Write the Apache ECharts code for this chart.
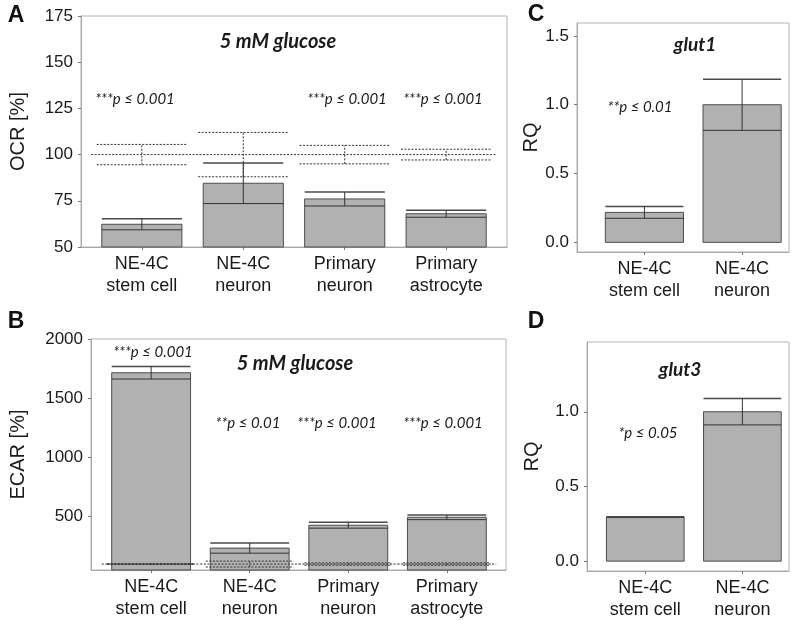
<!DOCTYPE html>
<html>
<head>
<meta charset="utf-8">
<script src="https://cdn.jsdelivr.net/npm/echarts@6/dist/echarts.min.js"></script>
<style>html,body{margin:0;padding:0;background:#fff}#c{width:800px;height:621px}</style>
</head>
<body>
<div id="c"></div>
<script>
// ---------- data ----------
const catsAB = ['NE-4C\nstem cell', 'NE-4C\nneuron', 'Primary\nneuron', 'Primary\nastrocyte'];
const catsCD = ['NE-4C\nstem cell', 'NE-4C\nneuron'];

const ocrMean = [62.3, 84.5, 76.0, 68.0];
const ocrErr = [3.0, 11.0, 3.8, 1.9];
const ocrCtrlErr = [5.5, 12.0, 5.0, 2.9];
const ocrTicks = [50, 75, 100, 125, 150, 175];

const ecarMean = [1715, 235, 428, 495];
const ecarErr = [53, 43, 25, 20];
const ecarCtrlErr = [4, 25, 10, 10];
const ecarTicks = [500, 1000, 1500, 2000];

const controlLevel = 100;

const glut1Mean = [0.218, 1.0];
const glut1Err = [0.043, 0.186];
const glut3Mean = [0.295, 1.0];
const glut3Err = [0.003, 0.088];
const rqTicksC = [0, 0.5, 1.0, 1.5];
const rqTicksD = [0, 0.5, 1.0];

const pLabelsA = ['***p ≤ 0.001', '', '***p ≤ 0.001', '***p ≤ 0.001'];
const pLabelsB = ['***p ≤ 0.001', '**p ≤ 0.01', '***p ≤ 0.001', '***p ≤ 0.001'];
const pLabelC = '**p ≤ 0.01';
const pLabelD = '*p ≤ 0.05';

// ---------- rendering ----------
const chart = echarts.init(document.getElementById('c'), null, {renderer: 'canvas'});
const FONT = 'Liberation Sans, Arial, sans-serif';
const ANN = 'Lato, "Open Sans", sans-serif';

function barRenderer(base, widthUnits) {
  return function (params, api) {
    const x = api.value(0), m = api.value(1), e = api.value(2);
    const w = api.size([widthUnits, 0])[0];
    const top = api.coord([x, m]);
    const bot = api.coord([x, base]);
    const lo = api.coord([x, m - e]);
    const hi = api.coord([x, m + e]);
    const x0 = top[0] - w / 2, x1 = top[0] + w / 2;
    return {
      type: 'group',
      children: [
        {type: 'rect', shape: {x: x0, y: top[1], width: w, height: bot[1] - top[1]},
          style: {fill: '#b1b1b1', stroke: '#4d4d4d', lineWidth: 1}},
        {type: 'line', shape: {x1: x0, y1: lo[1], x2: x1, y2: lo[1]}, style: {stroke: '#333', lineWidth: 1}},
        {type: 'line', shape: {x1: x0, y1: hi[1], x2: x1, y2: hi[1]}, style: {stroke: '#4a4a4a', lineWidth: 1.5}},
        {type: 'line', shape: {x1: top[0], y1: lo[1], x2: top[0], y2: hi[1]}, style: {stroke: '#333', lineWidth: 1}}
      ]
    };
  };
}

function ctrlRenderer(level, widthUnits) {
  return function (params, api) {
    const x = api.value(0), e = api.value(1);
    const c = api.coord([x, level]);
    const lo = api.coord([x, level - e]);
    const hi = api.coord([x, level + e]);
    const w = api.size([widthUnits, 0])[0];
    const left = api.coord([x - 0.5, level])[0];
    const right = api.coord([x + 0.5, level])[0];
    const ds = {stroke: '#333', lineWidth: 1, lineDash: [2, 1.5]};
    return {
      type: 'group',
      children: [
        {type: 'line', shape: {x1: left, y1: c[1], x2: right, y2: c[1]}, style: ds},
        {type: 'line', shape: {x1: c[0] - w / 2, y1: hi[1], x2: c[0] + w / 2, y2: hi[1]}, style: ds},
        {type: 'line', shape: {x1: c[0] - w / 2, y1: lo[1], x2: c[0] + w / 2, y2: lo[1]}, style: ds},
        {type: 'line', shape: {x1: c[0], y1: lo[1], x2: c[0], y2: hi[1]}, style: ds}
      ]
    };
  };
}

function xAx(gi, cats, min, max) {
  const vals = cats.map((_, i) => i);
  return {
    gridIndex: gi, type: 'value', min: min, max: max,
    axisLine: {show: true, onZero: false, lineStyle: {color: '#a8a8a8', width: 1}},
    axisTick: {show: true, customValues: vals, length: 3, lineStyle: {color: '#777'}},
    axisLabel: {customValues: vals, formatter: v => cats[Math.round(v)], fontSize: 18, lineHeight: 22,
      color: '#1a1a1a', fontFamily: FONT, margin: 6},
    splitLine: {show: false}
  };
}

function yAx(gi, min, max, ticks, name, gap, fmt) {
  return {
    gridIndex: gi, type: 'value', min: min, max: max,
    name: name, nameLocation: 'middle', nameGap: gap, nameRotate: 90,
    nameTextStyle: {fontSize: 20, fontFamily: FONT, color: '#1a1a1a'},
    axisLine: {show: true, onZero: false, lineStyle: {color: '#a8a8a8', width: 1}},
    axisTick: {show: true, customValues: ticks, length: 3, lineStyle: {color: '#777'}},
    axisLabel: {customValues: ticks, formatter: fmt, fontSize: 17, color: '#1a1a1a', fontFamily: FONT, margin: 8},
    splitLine: {show: false}
  };
}

function txt(t, x, y, font, color) {
  return {type: 'text', z: 100, style: {text: t, x: x, y: y, font: font, fill: color || '#1a1a1a',
    textAlign: 'center', textVerticalAlign: 'middle'}};
}

const gridStyle = {show: true, borderColor: '#b4b4b4', borderWidth: 1, backgroundColor: 'transparent'};

const pPosA = [[135, 99], null, [347, 99], [443, 99]];
const pPosB = [[153, 352], [248, 423], [337, 423], [443, 423]];
const annFont = 'italic 15px ' + ANN;
const titleFont = 'italic bold 20px ' + ANN;
const geneFont = 'italic bold 19px ' + ANN;
const letterFont = 'bold 23px ' + FONT;

const graphics = [
  txt('A', 16, 16, letterFont, '#111'), txt('B', 16, 322, letterFont, '#111'),
  txt('C', 536, 15, letterFont, '#111'), txt('D', 536, 322, letterFont, '#111'),
  txt('5 mM glucose', 278, 42, titleFont), txt('5 mM glucose', 295, 364, titleFont),
  txt('glut1', 695, 45, geneFont), txt('glut3', 680, 370, geneFont),
  txt(pLabelC, 640, 107, annFont), txt(pLabelD, 648, 433, annFont)
];
pLabelsA.forEach((t, i) => { if (t && pPosA[i]) graphics.push(txt(t, pPosA[i][0], pPosA[i][1], annFont)); });
pLabelsB.forEach((t, i) => { if (t) graphics.push(txt(t, pPosB[i][0], pPosB[i][1], annFont)); });

const option = {
  animation: false,
  backgroundColor: '#fff',
  grid: [
    Object.assign({left: 76, top: 16, width: 431, height: 231}, gridStyle),
    Object.assign({left: 87, top: 339, width: 419, height: 231}, gridStyle),
    Object.assign({left: 577, top: 23, width: 212, height: 229}, gridStyle),
    Object.assign({left: 587, top: 342, width: 202, height: 232}, gridStyle)
  ],
  xAxis: [
    xAx(0, catsAB, -0.6, 3.6),
    xAx(1, catsAB, -0.61, 3.6),
    xAx(2, catsCD, -0.69, 1.48),
    xAx(3, catsCD, -0.6, 1.48)
  ],
  yAxis: [
    yAx(0, 50, 175, ocrTicks, 'OCR [%]', 53, v => String(v)),
    yAx(1, 50, 2000, ecarTicks, 'ECAR [%]', 63, v => String(v)),
    yAx(2, -0.07, 1.594, rqTicksC, 'RQ', 36, v => v.toFixed(1)),
    yAx(3, -0.066, 1.467, rqTicksD, 'RQ', 45, v => v.toFixed(1))
  ],
  series: [
    {type: 'custom', xAxisIndex: 0, yAxisIndex: 0, renderItem: barRenderer(50, 0.79),
      data: ocrMean.map((m, i) => [i, m, ocrErr[i]]), z: 2},
    {type: 'custom', xAxisIndex: 0, yAxisIndex: 0, renderItem: ctrlRenderer(controlLevel, 0.89),
      data: ocrCtrlErr.map((e, i) => [i, e]), z: 3},
    {type: 'custom', xAxisIndex: 1, yAxisIndex: 1, renderItem: barRenderer(50, 0.80),
      data: ecarMean.map((m, i) => [i, m, ecarErr[i]]), z: 2},
    {type: 'custom', xAxisIndex: 1, yAxisIndex: 1, renderItem: ctrlRenderer(controlLevel, 0.89),
      data: ecarCtrlErr.map((e, i) => [i, e]), z: 3},
    {type: 'custom', xAxisIndex: 2, yAxisIndex: 2, renderItem: barRenderer(0, 0.80),
      data: glut1Mean.map((m, i) => [i, m, glut1Err[i]]), z: 2},
    {type: 'custom', xAxisIndex: 3, yAxisIndex: 3, renderItem: barRenderer(0, 0.80),
      data: glut3Mean.map((m, i) => [i, m, glut3Err[i]]), z: 2}
  ],
  graphic: graphics
};
chart.setOption(option);
</script>
</body>
</html>
